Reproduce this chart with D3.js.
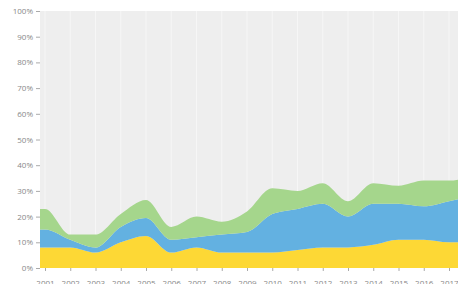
<!DOCTYPE html>
<html>
<head>
<meta charset="utf-8">
<script src="https://cdn.jsdelivr.net/npm/d3@7"></script>
<style>
    body { margin: 0; background: #fff; }
    .axis text { font-family: "Open Sans", sans-serif; font-size: 8px; fill: #888; }
    .axis line { stroke: #aaa; }
    .axis path { display: none; }
</style>
</head>
<body>
<div id="chart"></div>
<script>
var years = [2000, 2001, 2002, 2003, 2004, 2005, 2006, 2007, 2008, 2009, 2010, 2011, 2012, 2013, 2014, 2015, 2016, 2017, 2018];
var yellowValues = [8, 8, 8, 6, 10, 12.5, 6, 8, 6, 6, 6, 7, 8, 8, 9, 11, 11, 10, 10];
var blueValues = [7, 7, 3, 2, 6, 7, 5, 4, 7, 8, 15, 16, 17, 12, 16, 14, 13, 16, 18];
var greenValues = [8, 8, 2, 5, 5, 7, 5, 8, 5, 8, 10, 7, 8, 6, 8, 7, 10, 8, 8];
var tickYears = [2001, 2002, 2003, 2004, 2005, 2006, 2007, 2008, 2009, 2010, 2011, 2012, 2013, 2014, 2015, 2016, 2017];
var yTicks = [0, 10, 20, 30, 40, 50, 60, 70, 80, 90, 100];
var seriesKeys = ["yellow", "blue", "green"];
var seriesColors = ["#fdd835", "#63b1e1", "#a5d68c"];

var width = 458;
var height = 284;
var margin = { top: 11, right: 0, bottom: 16, left: 40 };

var data = years.map(function (y, i) {
    return { year: y, yellow: yellowValues[i], blue: blueValues[i], green: greenValues[i] };
});

var svg = d3.select("#chart")
    .append("svg")
    .attr("width", width)
    .attr("height", height);

var x = d3.scaleLinear()
    .domain([2001, 2017])
    .range([45, 449]);

var y = d3.scaleLinear()
    .domain([0, 100])
    .range([height - margin.bottom, margin.top]);

svg.append("defs").append("clipPath")
    .attr("id", "plot")
    .append("rect")
    .attr("x", margin.left)
    .attr("y", margin.top)
    .attr("width", width - margin.left)
    .attr("height", height - margin.bottom - margin.top);

svg.append("rect")
    .attr("x", margin.left)
    .attr("y", margin.top)
    .attr("width", width - margin.left)
    .attr("height", height - margin.bottom - margin.top)
    .attr("fill", "#eeeeee");

// faint vertical grid lines
svg.append("g")
    .selectAll("line")
    .data(tickYears)
    .enter()
    .append("line")
    .attr("x1", function (d) { return x(d); })
    .attr("x2", function (d) { return x(d); })
    .attr("y1", margin.top)
    .attr("y2", height - margin.bottom)
    .attr("stroke", "#f6f6f6")
    .attr("stroke-width", 1);

var stack = d3.stack().keys(seriesKeys);
var layers = stack(data);

var area = d3.area()
    .curve(d3.curveMonotoneX)
    .x(function (d) { return x(d.data.year); })
    .y0(function (d) { return y(d[0]); })
    .y1(function (d) { return y(d[1]); });

svg.append("g")
    .attr("clip-path", "url(#plot)")
    .selectAll("path")
    .data(layers)
    .enter()
    .append("path")
    .attr("fill", function (d, i) { return seriesColors[i]; })
    .attr("d", area);

svg.append("g")
    .attr("class", "axis")
    .attr("transform", "translate(" + margin.left + ",0)")
    .call(d3.axisLeft(y)
        .tickValues(yTicks)
        .tickSize(4)
        .tickPadding(3)
        .tickFormat(function (d) { return d + "%"; }));

svg.append("g")
    .attr("class", "axis")
    .attr("transform", "translate(0," + (height - margin.bottom) + ")")
    .call(d3.axisBottom(x)
        .tickValues(tickYears)
        .tickSize(3)
        .tickPadding(9)
        .tickFormat(d3.format("d")));
</script>
</body>
</html>
